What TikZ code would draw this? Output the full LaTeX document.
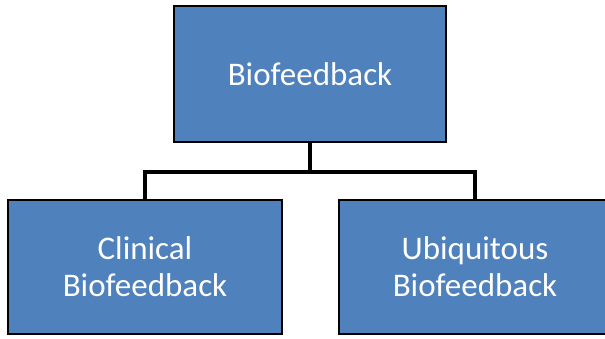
\documentclass[tikz,border=0pt]{standalone}
\usepackage{fontspec}
\setmainfont{Carlito}
\usetikzlibrary{backgrounds}
\definecolor{boxblue}{HTML}{4F81BD}
\begin{document}
\begin{tikzpicture}[x=1pt,y=-1pt,
  box/.style={draw=black, line width=2.5pt, fill=boxblue, text=white,
    font=\fontsize{33}{37}\selectfont, align=center, inner sep=0pt},
  conn/.style={draw=black, line width=4.5pt}]
\clip (0,0) rectangle (605,338);
\node[box, minimum width=272pt, minimum height=136pt] (top) at (310,74) {Biofeedback};
\node[box, minimum width=274pt, minimum height=134pt] (left) at (145,267) {Clinical\\Biofeedback};
\node[box, minimum width=272pt, minimum height=134pt] (right) at (475,267) {Ubiquitous\\Biofeedback};
\coordinate (j) at (310,172);
\begin{scope}[on background layer]
\fill[white] (0,0) rectangle (605,338);
\draw[conn] (top.south) -- (j);
\draw[conn] (left.north) |- (j) -| (right.north);
\end{scope}
\end{tikzpicture}
\end{document}
